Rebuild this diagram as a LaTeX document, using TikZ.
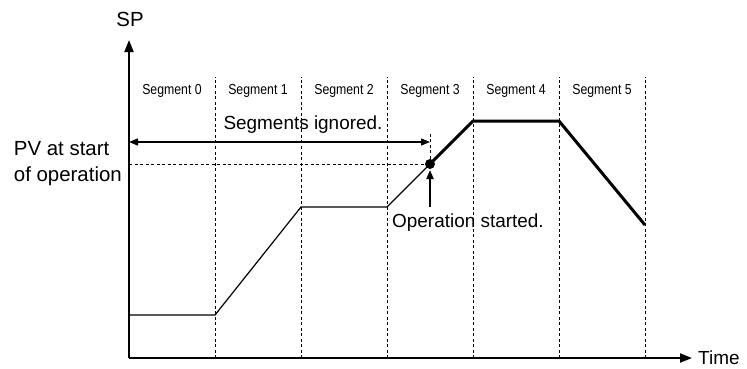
\documentclass[tikz,border=0pt]{standalone}
\usepackage{fontspec}
\setmainfont{Liberation Sans}
\newfontfamily\segfont[FakeStretch=0.85]{Liberation Sans}
\usetikzlibrary{arrows.meta}

\tikzset{
  axis/.style={line width=2bp, -{Triangle[length=12bp, width=9bp]}},
  gridline/.style={line width=0.9bp, dash pattern=on 3bp off 2.5bp},
  lbl/.style={font=\fontsize{19}{25}\selectfont, inner sep=0pt},
  biglbl/.style={font=\fontsize{20.5}{26}\selectfont, inner sep=0pt},
  seglbl/.style={font=\segfont\fontsize{14.5}{16}\selectfont, inner sep=0pt},
}

\begin{document}
\begin{tikzpicture}[x=1bp, y=1bp]
  \useasboundingbox (-129,-10) rectangle (618,358);
  % axes
  \coordinate (o) at (0,0);
  \draw[axis] (o) -- (0,318) coordinate (ytop);
  \draw[axis] (o) -- (563,0) coordinate (xend);
  \node[biglbl] (sp) at (1,339) {SP};
  \node[lbl, anchor=west] (time) at ([xshift=6bp]xend) {Time};
  % segment borders and names
  \foreach \k in {1,...,6}
    \draw[gridline] (86*\k,0) -- (86*\k,281);
  \foreach \k in {0,...,5}
    \node[seglbl] (seg\k) at (43+86*\k,267) {Segment \k};
  % program profile
  \coordinate (p0) at (0,43);
  \coordinate (p1) at (86,43);
  \coordinate (p2) at (172,151);
  \coordinate (p3) at (258,151);
  \coordinate (start) at (301,194);
  \coordinate (p5) at (344,237);
  \coordinate (p6) at (430,237);
  \coordinate (p7) at (516,133);
  \draw[gridline] (0,194) -- (start);
  \draw[gridline] (start) -- ++(0,30) coordinate (ign);
  \draw[line width=1.2bp] (p0) -- (p1) -- (p2) -- (p3) -- (start);
  \draw[line width=3bp] (start) -- (p5) -- (p6) -- (p7);
  \fill (start) circle (5bp);
  % ignored segments
  \draw[line width=1.3bp, {Triangle[length=9bp, width=7bp]}-{Triangle[length=9bp, width=7bp]}]
    (0,216) -- (ign |- 0,216);
  \node[lbl] (ignored) at (174,233) {Segments ignored.};
  % operation start
  \draw[line width=2bp, -{Triangle[length=9bp, width=7bp]}] (301,151) -- ([yshift=-6bp]start);
  \node[lbl, anchor=north west] (started) at (263,144) {Operation started.};
  \node[biglbl, align=left, anchor=east] (pv) at (-7,194) {PV at start\\of operation};
\end{tikzpicture}
\end{document}
